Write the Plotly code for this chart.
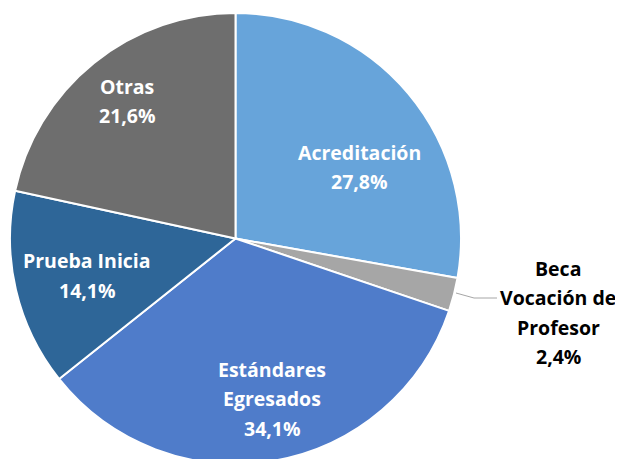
import plotly.graph_objects as go

categories = ["Acreditación", "Beca Vocación de Profesor", "Estándares Egresados", "Prueba Inicia", "Otras"]
values = [27.8, 2.4, 34.1, 14.1, 21.6]
colors = ["#67A4DA", "#A6A6A6", "#4F7CCA", "#2E6698", "#6E6E6E"]

# label lines (display) for each category
label_lines = [["Acreditación"], ["Beca", "Vocación de", "Profesor"], ["Estándares", "Egresados"], ["Prueba Inicia"], ["Otras"]]
# label block anchor (pixel center x, first line y in the page) and text color
label_pos = [(359, 152), (558, 268), (272, 369), (87, 261), (127, 86)]
label_color = ["white", "black", "white", "white", "white"]

W, H = 623, 459
OFF = 8  # page body margin
LINE = 29.5


def px_x(p):
    return (p - OFF) / W


def px_y(p):
    return 1 - (p - OFF) / H


fig = go.Figure(go.Pie(
    labels=categories, values=values, sort=False, direction="clockwise", rotation=0,
    marker=dict(colors=colors, line=dict(color="white", width=2)),
    textinfo="none", hoverinfo="label+percent", showlegend=False,
    domain=dict(x=[px_x(10), px_x(461)], y=[px_y(464), px_y(13)]),
))

ann = []
for lines, (px, py), col, v in zip(label_lines, label_pos, label_color, values):
    allines = lines + [f"{v:.1f}".replace(".", ",") + "%"]
    for i, t in enumerate(allines):
        ann.append(dict(text=f"<b>{t}</b>", x=px_x(px), y=px_y(py + i * LINE),
                        xref="paper", yref="paper", showarrow=False,
                        xanchor="center", yanchor="middle",
                        font=dict(family="Open Sans", size=19.5, color=col)))

fig.update_layout(
    width=W, height=H, margin=dict(l=0, r=0, t=0, b=0),
    paper_bgcolor="white", plot_bgcolor="white", annotations=ann,
    shapes=[dict(type="line", xref="paper", yref="paper",
                 x0=px_x(456), y0=px_y(293), x1=px_x(474), y1=px_y(298),
                 line=dict(color="#A6A6A6", width=1)),
            dict(type="line", xref="paper", yref="paper",
                 x0=px_x(474), y0=px_y(298), x1=px_x(497), y1=px_y(298),
                 line=dict(color="#A6A6A6", width=1))],
)

fig.write_html("out.html")
